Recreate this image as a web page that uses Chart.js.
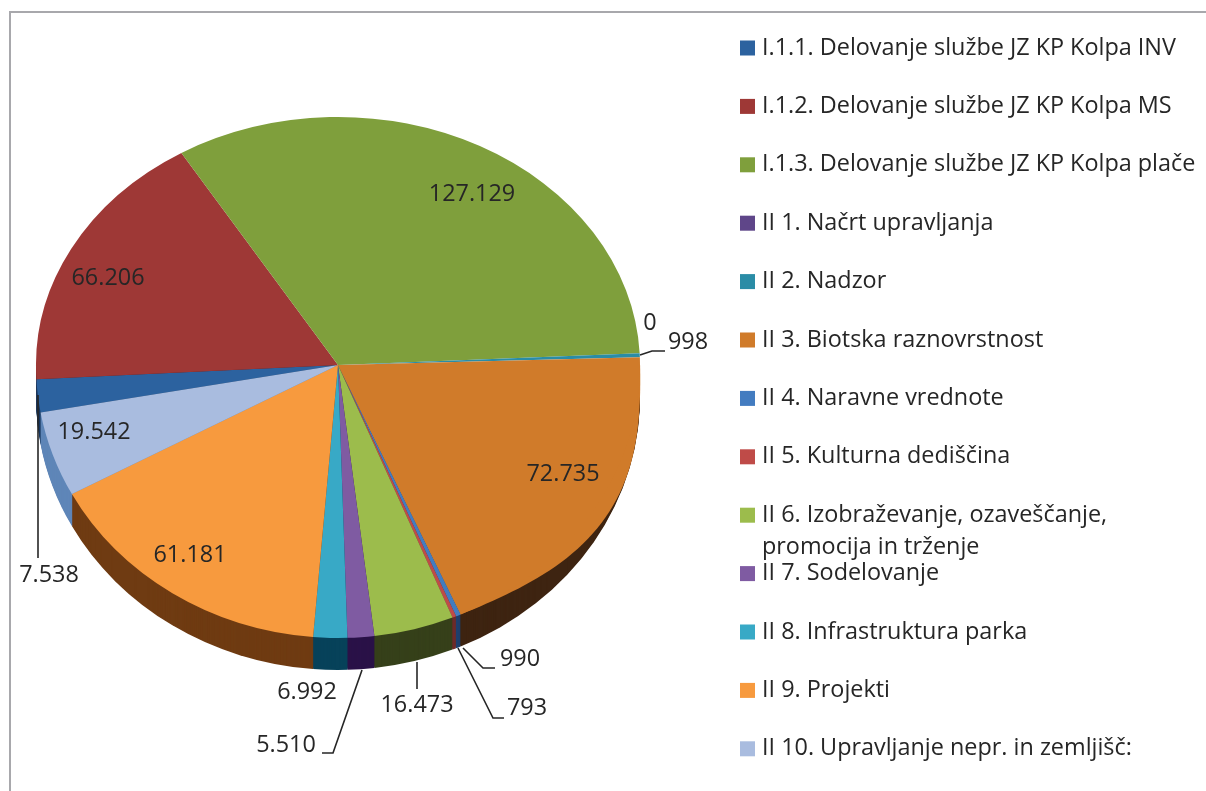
<!DOCTYPE html>
<html>
<head>
<meta charset="utf-8">
<title>Pie</title>
<script src="https://cdn.jsdelivr.net/npm/chart.js@4"></script>
<style>
  html, body { margin: 0; padding: 0; background: #fff; }
  #wrap { width: 1206px; height: 791px; }
</style>
</head>
<body>
<div id="wrap"><canvas id="pie" width="1206" height="791"></canvas></div>
<script>
const categories = [
  "I.1.1. Delovanje službe JZ KP Kolpa INV",
  "I.1.2. Delovanje službe JZ KP Kolpa MS",
  "I.1.3. Delovanje službe JZ KP Kolpa plače",
  "II 1. Načrt upravljanja",
  "II 2. Nadzor",
  "II 3. Biotska raznovrstnost",
  "II 4. Naravne vrednote",
  "II 5. Kulturna dediščina",
  "II 6. Izobraževanje, ozaveščanje,\npromocija in trženje",
  "II 7. Sodelovanje",
  "II 8. Infrastruktura parka",
  "II 9. Projekti",
  "II 10. Upravljanje nepr. in zemljišč:"
];
const values = [7538, 66206, 127129, 0, 998, 72735, 990, 793, 16473, 5510, 6992, 61181, 19542];
const valueLabels = ["7.538", "66.206", "127.129", "0", "998", "72.735", "990", "793", "16.473", "5.510", "6.992", "61.181", "19.542"];

const topColors = ["#2c629f", "#9e3836", "#7f9f3c", "#5f4689", "#2a8ca6", "#d07b2a", "#437cc0", "#bf4b48", "#9cbc4c", "#7f5ba2", "#38a9c6", "#f79a3e", "#a9bcdf"];
const sideColors = ["#1a3a60", "#5e2120", "#4b5e24", "#2a1248", "#07425a", "#3e2411", "#1f3f6c", "#6d2b28", "#36401a", "#2a1248", "#07425a", "#6f3b12", "#5f86b8"];

const FONT = '23.4px "Open Sans", sans-serif';
const TEXT = "#262626";
const SQUASH_TOP = 248 / 302;
const SQUASH_BOTTOM = 273 / 302;
const DEPTH = 32;
const BULGE_SLICE = 5;   // the picture's rim swells out along this slice
const BULGE = 0.047;

// where the value labels sit, and their leader lines
const labelSpots = [
  { x: 49, y: 575, line: [[38, 395], [38, 558]] },
  { x: 108, y: 278 },
  { x: 472, y: 194 },
  { x: 650, y: 323 },
  { x: 688, y: 342, line: [[640, 355], [652, 351], [665, 351]] },
  { x: 563, y: 474 },
  { x: 520, y: 659, line: [[463, 648], [483, 668], [495, 668]] },
  { x: 527, y: 708, line: [[458, 648], [493, 718], [504, 718]] },
  { x: 417, y: 705, line: [[417, 662], [417, 689]] },
  { x: 286, y: 745, line: [[362, 670], [333, 753], [322, 753]] },
  { x: 307, y: 692 },
  { x: 190, y: 555 },
  { x: 94, y: 432 }
];

function squashed(ctx, cy, shift, squash, draw) {
  ctx.save();
  ctx.translate(0, cy + shift);
  ctx.scale(1, squash);
  ctx.translate(0, -cy);
  draw();
  ctx.restore();
}

function clipBand(ctx, chart, y0, y1) {
  ctx.beginPath();
  ctx.rect(0, y0, chart.width, y1 - y0);
  ctx.clip();
}

const pie3d = {
  id: "pie3d",
  beforeDraw(chart) {
    const ctx = chart.ctx;
    ctx.save();
    ctx.fillStyle = "#ffffff";
    ctx.fillRect(0, 0, chart.width, chart.height);
    ctx.fillStyle = "#a8a8ac";
    ctx.fillRect(9, 11, 2, chart.height - 11);
    ctx.fillRect(9, 11, chart.width - 9, 2);
    ctx.restore();
  },
  beforeDatasetsDraw(chart) {
    const ctx = chart.ctx;
    const arcs = chart.getDatasetMeta(0).data;
    const cx = arcs[0].x, cy = arcs[0].y, r = arcs[0].outerRadius;

    // side wall: the same arcs stacked downwards in the darker colours
    ctx.save();
    clipBand(ctx, chart, cy, chart.height);
    for (let d = DEPTH; d >= 1; d--) {
      arcs.forEach((arc, i) => {
        squashed(ctx, cy, d, SQUASH_BOTTOM, () => {
          ctx.fillStyle = sideColors[i];
          ctx.beginPath();
          ctx.moveTo(cx, cy);
          ctx.arc(cx, cy, r, arc.startAngle, arc.endAngle);
          ctx.closePath();
          ctx.fill();
        });
      });
    }
    ctx.restore();

    // top face: upper half is flatter than the lower half
    ctx.save();
    clipBand(ctx, chart, 0, cy);
    squashed(ctx, cy, 0, SQUASH_TOP, () => arcs.forEach(arc => arc.draw(ctx)));
    ctx.restore();

    ctx.save();
    clipBand(ctx, chart, cy, chart.height);
    const swell = arcs[BULGE_SLICE];
    squashed(ctx, cy, 0, SQUASH_BOTTOM, () => {
      ctx.fillStyle = topColors[BULGE_SLICE];
      ctx.beginPath();
      ctx.moveTo(cx, cy);
      for (let t = 0; t <= 1.0001; t += 0.02) {
        const a = swell.startAngle + t * (swell.endAngle - swell.startAngle);
        const rr = r * (1 + BULGE * Math.sin(Math.PI * t) ** 2);
        ctx.lineTo(cx + rr * Math.cos(a), cy + rr * Math.sin(a));
      }
      ctx.closePath();
      ctx.fill();
      arcs.forEach(arc => arc.draw(ctx));
    });
    ctx.restore();
    return false;
  },
  afterDraw(chart) {
    const ctx = chart.ctx;
    ctx.save();
    ctx.textBaseline = "middle";
    ctx.font = FONT;

    ctx.strokeStyle = TEXT;
    ctx.lineWidth = 1.6;
    labelSpots.forEach(s => {
      if (!s.line) return;
      ctx.beginPath();
      s.line.forEach((p, i) => i ? ctx.lineTo(p[0], p[1]) : ctx.moveTo(p[0], p[1]));
      ctx.stroke();
    });

    ctx.fillStyle = TEXT;
    ctx.textAlign = "center";
    valueLabels.forEach((t, i) => ctx.fillText(t, labelSpots[i].x, labelSpots[i].y));

    // legend
    ctx.textAlign = "left";
    categories.forEach((name, i) => {
      const y = 48 + i * 58.4;
      ctx.fillStyle = topColors[i];
      ctx.fillRect(740, y - 7.5, 15, 15);
      ctx.fillStyle = TEXT;
      name.split("\n").forEach((line, k) => ctx.fillText(line, 762, y + k * 32));
    });
    ctx.restore();
  }
};

new Chart(document.getElementById("pie"), {
  type: "pie",
  data: {
    labels: categories,
    datasets: [{
      data: values,
      backgroundColor: topColors,
      borderWidth: 0,
      radius: 302,
      clip: false
    }]
  },
  options: {
    responsive: false,
    animation: false,
    rotation: -100,
    layout: { padding: { right: 530, bottom: 61 } },
    plugins: { legend: { display: false }, tooltip: { enabled: false } }
  },
  plugins: [pie3d]
});
</script>
</body>
</html>
